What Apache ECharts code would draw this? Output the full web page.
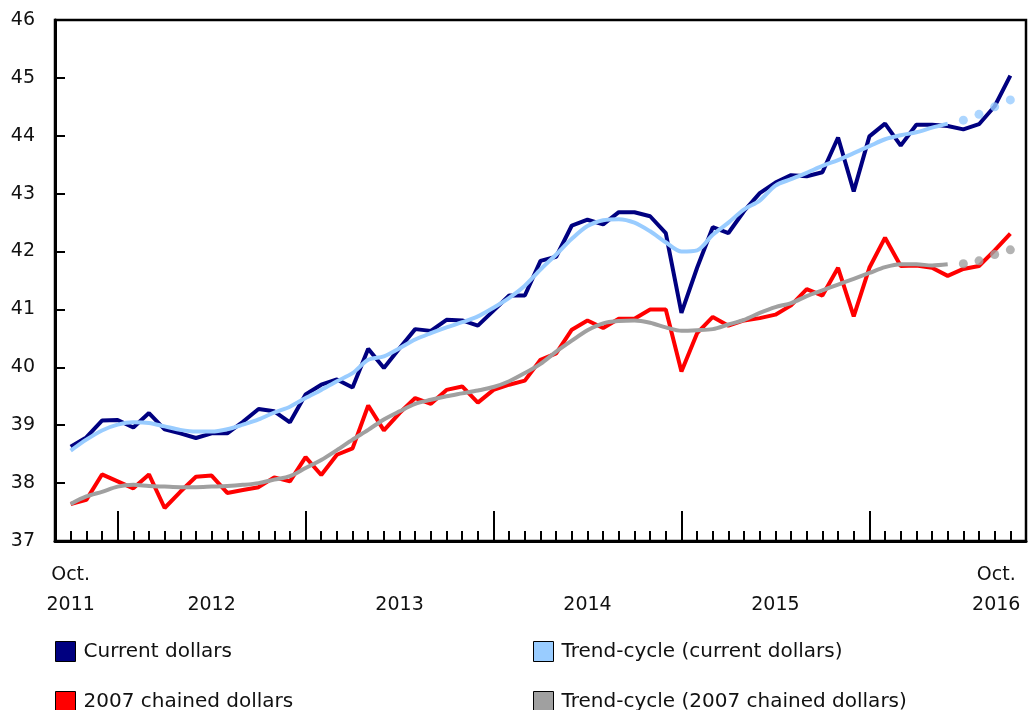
<!DOCTYPE html>
<html>
<head>
<meta charset="utf-8">
<script src="https://cdn.jsdelivr.net/npm/echarts@6/dist/echarts.min.js"></script>
<style>
html,body{margin:0;padding:0;background:#fff;}
#chart{width:1036px;height:710px;}
</style>
</head>
<body>
<div id="chart"></div>
<script>
// Monthly, Oct. 2011 (index 0) to Oct. 2016 (index 60)
const currentDollars = [
  38.63, 38.79, 39.08, 39.09, 38.96, 39.21, 38.93, 38.86, 38.78, 38.86,
  38.86, 39.06, 39.28, 39.24, 39.05, 39.53, 39.70, 39.79, 39.65, 40.32,
  39.99, 40.33, 40.66, 40.63, 40.82, 40.81, 40.72, 40.98, 41.24, 41.24,
  41.84, 41.91, 42.45, 42.55, 42.47, 42.68, 42.68, 42.61, 42.32, 40.94,
  41.72, 42.42, 42.32, 42.70, 43.01, 43.19, 43.32, 43.30, 43.37, 43.97,
  43.04, 43.99, 44.21, 43.83, 44.19, 44.19, 44.17, 44.11, 44.20, 44.51,
  45.04
];
const trendCurrent = [
  38.56, 38.75, 38.91, 39.01, 39.05, 39.04, 38.98, 38.92, 38.89, 38.89,
  38.93, 39.01, 39.10, 39.22, 39.32, 39.47, 39.61, 39.76, 39.90, 40.13,
  40.19, 40.33, 40.48, 40.59, 40.69, 40.78, 40.88, 41.03, 41.20, 41.41,
  41.69, 41.95, 42.22, 42.44, 42.54, 42.56, 42.50, 42.35, 42.16, 42.00,
  42.02, 42.29, 42.50, 42.73, 42.88, 43.14, 43.25, 43.36, 43.48, 43.58,
  43.70, 43.82, 43.94, 44.01, 44.06, 44.14, 44.21
];
const trendCurrentProjected = [44.27, 44.37, 44.50, 44.62]; // indices 57-60
const chainedDollars = [
  37.64, 37.71, 38.15, 38.03, 37.91, 38.15, 37.57, 37.85, 38.11, 38.13,
  37.83, 37.88, 37.93, 38.10, 38.03, 38.45, 38.14, 38.49, 38.60, 39.34,
  38.91, 39.21, 39.47, 39.37, 39.61, 39.67, 39.39, 39.61, 39.70, 39.77,
  40.13, 40.24, 40.65, 40.81, 40.68, 40.84, 40.84, 41.00, 41.00, 39.93,
  40.59, 40.87, 40.72, 40.81, 40.85, 40.91, 41.07, 41.35, 41.24, 41.72,
  40.88, 41.72, 42.24, 41.75, 41.76, 41.72, 41.58, 41.70, 41.75, 42.02,
  42.31
];
const trendChained = [
  37.64, 37.77, 37.85, 37.94, 37.97, 37.95, 37.94, 37.93, 37.93, 37.94,
  37.95, 37.97, 38.00, 38.06, 38.12, 38.26, 38.40, 38.57, 38.75, 38.92,
  39.10, 39.24, 39.37, 39.44, 39.50, 39.55, 39.60, 39.66, 39.76, 39.90,
  40.06, 40.27, 40.46, 40.64, 40.76, 40.80, 40.81, 40.77, 40.69, 40.63,
  40.64, 40.66, 40.74, 40.82, 40.94, 41.04, 41.11, 41.23, 41.33, 41.43,
  41.53, 41.63, 41.73, 41.78, 41.78, 41.76, 41.78
];
const trendChainedProjected = [41.79, 41.84, 41.95, 42.03]; // indices 57-60

const monthTicks = Array.from({length: 61}, (_, i) => i);
const yearTicks = [3, 15, 27, 39, 51];            // January of each year
const xLabelPos = [0, 9, 21, 33, 45, 59.1];
const xLabelText = ['Oct.\n2011', '\n2012', '\n2013', '\n2014', '\n2015', 'Oct.\n2016'];

const names = ['Current dollars', 'Trend-cycle (current dollars)', '2007 chained dollars', 'Trend-cycle (2007 chained dollars)'];
const colors = ['#000080', '#99ccff', '#ff0000', '#a0a0a0'];

const toPts = (arr, start) => arr.map((v, i) => [i + (start || 0), v]);

const font = 'DejaVu Sans, Verdana, sans-serif';
const chart = echarts.init(document.getElementById('chart'), null, {renderer: 'canvas'});

function legend(name, left, top) {
  return {
    data: [name], left: left, top: top, padding: 0, icon: 'rect',
    itemWidth: 20, itemHeight: 20,
    itemStyle: {borderColor: '#000', borderWidth: 1},
    textStyle: {fontFamily: font, fontSize: 20, color: '#111', padding: [0, 0, 0, 3]},
    selectedMode: false
  };
}

chart.setOption({
  animation: false,
  backgroundColor: '#fff',
  grid: {left: 55, right: 10, top: 20, bottom: 169, show: true, borderColor: '#000', borderWidth: 2.5, backgroundColor: 'transparent'},
  legend: [
    legend(names[0], 55, 641),
    legend(names[1], 533, 641),
    legend(names[2], 55, 691),
    legend(names[3], 533, 691)
  ],
  xAxis: [
    {
      type: 'value', min: -1, max: 61,
      axisLine: {show: true, onZero: false, lineStyle: {color: '#000', width: 3}},
      splitLine: {show: false},
      axisTick: {show: true, inside: true, length: 10, customValues: monthTicks, lineStyle: {color: '#000', width: 2}},
      axisLabel: {
        show: true, customValues: xLabelPos, margin: 19,
        fontFamily: font, fontSize: 19, color: '#111', lineHeight: 30,
        formatter: function (v) {
          const k = xLabelPos.indexOf(v);
          return k >= 0 ? xLabelText[k] : '';
        }
      }
    },
    {
      type: 'value', min: -1, max: 61, position: 'bottom',
      axisLine: {show: false, onZero: false},
      splitLine: {show: false},
      axisTick: {show: true, inside: true, length: 30, customValues: yearTicks, lineStyle: {color: '#000', width: 2}},
      axisLabel: {show: false}
    }
  ],
  yAxis: {
    type: 'value', min: 37, max: 46, interval: 1,
    axisLine: {show: true, onZero: false, lineStyle: {color: '#000', width: 3}},
    splitLine: {show: false},
    axisTick: {show: true, inside: true, length: 10, lineStyle: {color: '#000', width: 2}},
    axisLabel: {fontFamily: font, fontSize: 19, color: '#111', margin: 20}
  },
  series: [
    {name: names[0], type: 'line', data: toPts(currentDollars), showSymbol: false, symbol: 'none',
     lineStyle: {color: colors[0], width: 4}, itemStyle: {color: colors[0]}, z: 3},
    {name: names[1], type: 'line', data: toPts(trendCurrent), showSymbol: false, symbol: 'none', smooth: 0.3,
     lineStyle: {color: colors[1], width: 4}, itemStyle: {color: colors[1]}, z: 4},
    {name: names[2], type: 'line', data: toPts(chainedDollars), showSymbol: false, symbol: 'none',
     lineStyle: {color: colors[2], width: 4}, itemStyle: {color: colors[2]}, z: 3},
    {name: names[3], type: 'line', data: toPts(trendChained), showSymbol: false, symbol: 'none', smooth: 0.3,
     lineStyle: {color: colors[3], width: 4}, itemStyle: {color: colors[3]}, z: 4},
    {name: 'proj1', type: 'scatter', data: toPts(trendCurrentProjected, 57), symbol: 'circle', symbolSize: 9,
     itemStyle: {color: colors[1]}, z: 4},
    {name: 'proj2', type: 'scatter', data: toPts(trendChainedProjected, 57), symbol: 'circle', symbolSize: 9,
     itemStyle: {color: colors[3]}, z: 4}
  ]
});
</script>
</body>
</html>
